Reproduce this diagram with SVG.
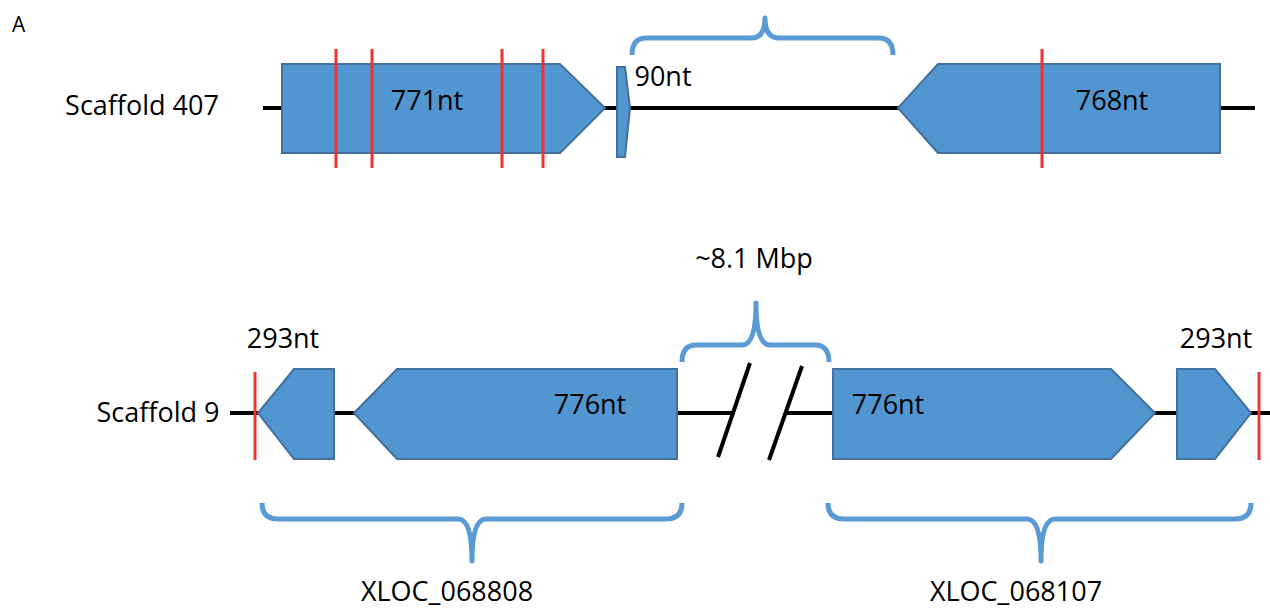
<svg xmlns="http://www.w3.org/2000/svg" width="1270" height="609" viewBox="0 0 1270 609">
<style>
.t{font-family:"Open Sans","Noto Sans","Liberation Sans",sans-serif;font-size:27px;fill:#000}
.m{text-anchor:middle}
.gene{fill:#5296D1;stroke:#41719C;stroke-width:2}
.site{stroke:#EE3333;stroke-width:3}
.dna{stroke:#000;stroke-width:4;fill:none}
.brace{fill:none;stroke:#5B9BD5;stroke-width:5;stroke-linejoin:round}
</style>
<rect width="1270" height="609" fill="#fff"/>
<text class="t" x="12" y="32" style="font-size:21px">A</text>
<g id="connectors">
<line class="dna" x1="263" y1="108" x2="1255" y2="108"/>
<line class="dna" x1="230" y1="413" x2="733" y2="413"/>
<line class="dna" x1="785" y1="413" x2="1270" y2="413"/>
<line class="dna" stroke-width="3" x1="718" y1="457" x2="750" y2="363"/>
<line class="dna" stroke-width="3" x1="769" y1="460" x2="802" y2="366"/>
</g>
<g id="scaffold407">
<text class="t m" x="142" y="115">Scaffold 407</text>
</g>
<g id="gene771">
<polygon class="gene" points="282,64 560,64 605,108 560,153 282,153"/>
<line class="site" x1="336" y1="49" x2="336" y2="168"/>
<line class="site" x1="372" y1="49" x2="372" y2="168"/>
<line class="site" x1="502" y1="49" x2="502" y2="168"/>
<line class="site" x1="543" y1="49" x2="543" y2="168"/>
<text class="t m" x="427" y="110">771nt</text>
</g>
<g id="gene90">
<polygon class="gene" points="617,67 625,67 630,108 625,157 617,157"/>
<text class="t m" x="663" y="86">90nt</text>
</g>
<g id="brace-top">
<path class="brace" d="M632,55 Q632,38 646,38 L751,38 Q765,38 765,18 Q765,38 779,38 L879,38 Q893,38 893,55"/>
</g>
<g id="gene768">
<polygon class="gene" points="1220,64 938,64 898,108 938,153 1220,153"/>
<line class="site" x1="1042" y1="49" x2="1042" y2="168"/>
<text class="t m" x="1112" y="110">768nt</text>
</g>
<g id="scaffold9">
<text class="t m" x="158" y="422">Scaffold 9</text>
</g>
<g id="gene293-left">
<polygon class="gene" points="334,369 294,369 258,413 294,459 334,459"/>
<line class="site" x1="255" y1="372" x2="255" y2="460"/>
<text class="t m" x="283" y="348">293nt</text>
</g>
<g id="gene776-left">
<polygon class="gene" points="677,369 397,369 354,413 397,459 677,459"/>
<text class="t m" x="590" y="414">776nt</text>
</g>
<g id="gap">
<path class="brace" d="M682,362 Q682,345 696,345 L742,345 Q756,345 756,303 Q756,345 770,345 L815,345 Q829,345 829,362"/>
<text class="t m" x="754" y="268">~8.1 Mbp</text>
</g>
<g id="gene776-right">
<polygon class="gene" points="833,369 1111,369 1155,413 1111,459 833,459"/>
<text class="t m" x="888" y="414">776nt</text>
</g>
<g id="gene293-right">
<polygon class="gene" points="1177,369 1215,369 1251,413 1215,459 1177,459"/>
<line class="site" x1="1259" y1="372" x2="1259" y2="460"/>
<text class="t m" x="1216" y="348">293nt</text>
</g>
<g id="xloc068808">
<path class="brace" d="M262,503 Q262,519 278,519 L458,519 Q472,519 472,561 Q472,519 486,519 L666,519 Q682,519 682,503"/>
<text class="t m" x="447" y="601">XLOC_068808</text>
</g>
<g id="xloc068107">
<path class="brace" d="M828,503 Q828,519 844,519 L1027,519 Q1041,519 1041,561 Q1041,519 1055,519 L1235,519 Q1251,519 1251,503"/>
<text class="t m" x="1016" y="601">XLOC_068107</text>
</g>
</svg>
